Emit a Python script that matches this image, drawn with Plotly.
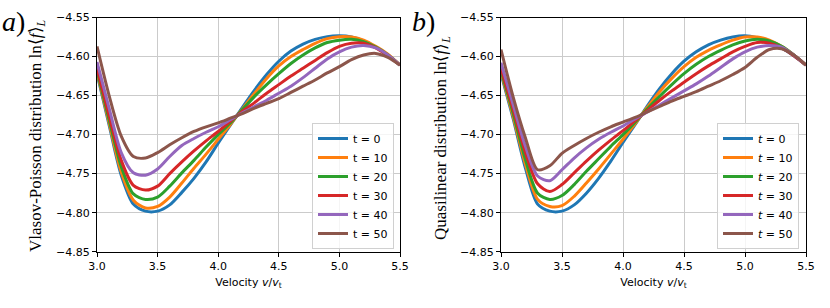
import plotly.graph_objects as go

W, H = 830, 308

velocity = [3.0, 3.1, 3.2, 3.3, 3.4, 3.5, 3.6, 3.7, 3.8, 3.9, 4.0, 4.1, 4.2,
            4.3, 4.4, 4.5, 4.6, 4.7, 4.8, 4.9, 5.0, 5.1, 5.2, 5.3, 5.4, 5.5]

times = [0, 10, 20, 30, 40, 50]
colors = ["#1f77b4", "#ff7f0e", "#2ca02c", "#d62728", "#9467bd", "#8c564b"]

# Panel a: Vlasov-Poisson
vp_t0 = [-4.622, -4.688, -4.752, -4.789, -4.798, -4.798, -4.790, -4.774, -4.756, -4.735, -4.711, -4.688, -4.665,
         -4.643, -4.623, -4.606, -4.593, -4.584, -4.578, -4.5745, -4.5735, -4.575, -4.580, -4.588, -4.598, -4.611]
vp_t10 = [-4.620, -4.685, -4.748, -4.784, -4.794, -4.792, -4.780, -4.762, -4.743, -4.725, -4.706, -4.687, -4.667,
          -4.647, -4.628, -4.612, -4.600, -4.591, -4.583, -4.577, -4.5745, -4.575, -4.579, -4.587, -4.597, -4.611]
vp_t20 = [-4.618, -4.681, -4.741, -4.776, -4.783, -4.780, -4.766, -4.749, -4.733, -4.716, -4.700, -4.685, -4.668,
          -4.651, -4.636, -4.622, -4.609, -4.598, -4.589, -4.582, -4.579, -4.578, -4.581, -4.588, -4.598, -4.611]
vp_t30 = [-4.615, -4.676, -4.733, -4.765, -4.771, -4.766, -4.750, -4.735, -4.721, -4.708, -4.696, -4.683, -4.670,
          -4.659, -4.647, -4.636, -4.625, -4.615, -4.605, -4.595, -4.587, -4.583, -4.583, -4.589, -4.599, -4.611]
vp_t40 = [-4.607, -4.666, -4.723, -4.749, -4.752, -4.744, -4.728, -4.714, -4.705, -4.697, -4.690, -4.681, -4.672,
          -4.664, -4.656, -4.647, -4.638, -4.627, -4.615, -4.603, -4.594, -4.588, -4.586, -4.589, -4.598, -4.611]
vp_t50 = [-4.587, -4.650, -4.702, -4.728, -4.730, -4.723, -4.713, -4.704, -4.696, -4.690, -4.685, -4.679, -4.673,
          -4.666, -4.660, -4.654, -4.646, -4.638, -4.630, -4.621, -4.613, -4.604, -4.598, -4.596, -4.601, -4.611]

# Panel b: Quasilinear
ql_t0 = [-4.622, -4.680, -4.743, -4.789, -4.798, -4.798, -4.790, -4.775, -4.756, -4.734, -4.710, -4.687, -4.663,
         -4.641, -4.622, -4.606, -4.594, -4.585, -4.579, -4.575, -4.5735, -4.576, -4.581, -4.589, -4.599, -4.611]
ql_t10 = [-4.620, -4.677, -4.738, -4.783, -4.792, -4.791, -4.779, -4.762, -4.744, -4.725, -4.706, -4.686, -4.665,
          -4.645, -4.628, -4.613, -4.601, -4.592, -4.585, -4.579, -4.575, -4.575, -4.579, -4.587, -4.598, -4.611]
ql_t20 = [-4.618, -4.673, -4.732, -4.775, -4.783, -4.778, -4.764, -4.747, -4.731, -4.715, -4.700, -4.684, -4.667,
          -4.651, -4.636, -4.622, -4.610, -4.600, -4.592, -4.585, -4.580, -4.578, -4.580, -4.587, -4.598, -4.611]
ql_t30 = [-4.615, -4.668, -4.723, -4.763, -4.773, -4.764, -4.749, -4.734, -4.720, -4.707, -4.695, -4.682, -4.669,
          -4.656, -4.644, -4.633, -4.622, -4.612, -4.603, -4.594, -4.587, -4.582, -4.583, -4.589, -4.599, -4.611]
ql_t40 = [-4.608, -4.662, -4.715, -4.753, -4.759, -4.745, -4.730, -4.717, -4.706, -4.697, -4.689, -4.680, -4.671,
          -4.662, -4.653, -4.644, -4.635, -4.625, -4.614, -4.603, -4.594, -4.588, -4.586, -4.588, -4.598, -4.611]
ql_t50 = [-4.591, -4.652, -4.704, -4.745, -4.740, -4.724, -4.714, -4.705, -4.697, -4.690, -4.684, -4.678, -4.671,
          -4.664, -4.657, -4.651, -4.645, -4.638, -4.631, -4.623, -4.614, -4.601, -4.591, -4.590, -4.598, -4.611]

vp_series = [vp_t0, vp_t10, vp_t20, vp_t30, vp_t40, vp_t50]
ql_series = [ql_t0, ql_t10, ql_t20, ql_t30, ql_t40, ql_t50]

x_ticks = [3.0, 3.5, 4.0, 4.5, 5.0, 5.5]
x_ticktext = ["3.0", "3.5", "4.0", "4.5", "5.0", "5.5"]
y_ticks = [-4.85, -4.80, -4.75, -4.70, -4.65, -4.60, -4.55]
y_ticktext = ["\u22124.85", "\u22124.80", "\u22124.75", "\u22124.70", "\u22124.65", "\u22124.60", "\u22124.55"]

fig = go.Figure()

for t, c, ys in zip(times, colors, vp_series):
    fig.add_trace(go.Scatter(x=velocity, y=ys, mode="lines", name=f"t = {t}",
                             line=dict(color=c, width=3, shape="spline", smoothing=0.8),
                             xaxis="x", yaxis="y", legend="legend"))
for t, c, ys in zip(times, colors, ql_series):
    fig.add_trace(go.Scatter(x=velocity, y=ys, mode="lines", name=f"<i>t</i> = {t}",
                             line=dict(color=c, width=3, shape="spline", smoothing=0.8),
                             xaxis="x2", yaxis="y2", legend="legend2"))

ydom = [(H - 251.7) / H, (H - 17.5) / H]
axis_common = dict(
    showline=True, linecolor="black", linewidth=1, mirror=True,
    ticks="outside", ticklen=4, tickcolor="black", tickwidth=1,
    showgrid=True, gridcolor="#cbcbcb", gridwidth=1, zeroline=False,
    tickfont=dict(family="DejaVu Sans", size=11, color="black"),
    automargin=False,
)
xtitle = dict(text="Velocity <i>v</i>/<i>v</i><sub>t</sub>",
              font=dict(family="DejaVu Sans", size=11, color="black"), standoff=6)

fig.update_layout(
    width=W, height=H,
    margin=dict(l=0, r=0, t=0, b=0, pad=0, autoexpand=False),
    paper_bgcolor="white", plot_bgcolor="white",
    xaxis=dict(domain=[97 / W, 400 / W], range=[3.0, 5.5], tickvals=x_ticks, ticktext=x_ticktext,
               anchor="y", title=xtitle, **axis_common),
    yaxis=dict(domain=ydom, range=[-4.85, -4.55], tickvals=y_ticks, ticktext=y_ticktext,
               anchor="x", **axis_common),
    xaxis2=dict(domain=[501 / W, 806 / W], range=[3.0, 5.5], tickvals=x_ticks, ticktext=x_ticktext,
                anchor="y2", title=xtitle, **axis_common),
    yaxis2=dict(domain=ydom, range=[-4.85, -4.55], tickvals=y_ticks, ticktext=y_ticktext,
                anchor="x2", **axis_common),
    legend=dict(x=394 / W, y=(H - 249) / H, xanchor="right", yanchor="bottom",
                bgcolor="rgba(255,255,255,0.8)", bordercolor="#d0d0d0", borderwidth=1,
                font=dict(family="DejaVu Sans", size=11, color="black"), tracegroupgap=0),
    legend2=dict(x=799 / W, y=(H - 249) / H, xanchor="right", yanchor="bottom",
                 bgcolor="rgba(255,255,255,0.8)", bordercolor="#d0d0d0", borderwidth=1,
                 font=dict(family="DejaVu Sans", size=11, color="black"), tracegroupgap=0),
    showlegend=True,
)

serif = "Liberation Serif"
fig.add_annotation(text="Vlasov-Poisson distribution ln\u27e8<i>f</i>\u27e9<sub><i>L</i></sub>",
                   x=37 / W, y=(H - 136) / H, xref="paper", yref="paper", textangle=-90,
                   showarrow=False, xanchor="center", yanchor="middle",
                   font=dict(family=serif, size=17, color="black"))
fig.add_annotation(text="Quasilinear distribution ln\u27e8<i>f</i>\u27e9<sub><i>L</i></sub>",
                   x=442 / W, y=(H - 138) / H, xref="paper", yref="paper", textangle=-90,
                   showarrow=False, xanchor="center", yanchor="middle",
                   font=dict(family=serif, size=17, color="black"))
fig.add_annotation(text="<i>a</i>)", x=0, y=(H - 22) / H, xref="paper", yref="paper",
                   showarrow=False, xanchor="left", yanchor="middle",
                   font=dict(family=serif, size=28, color="black"))
fig.add_annotation(text="<i>b</i>)", x=410 / W, y=(H - 22) / H, xref="paper", yref="paper",
                   showarrow=False, xanchor="left", yanchor="middle",
                   font=dict(family=serif, size=28, color="black"))

fig.write_html("out.html", config={"displayModeBar": False},
               post_script="document.body.style.margin='0px';")
